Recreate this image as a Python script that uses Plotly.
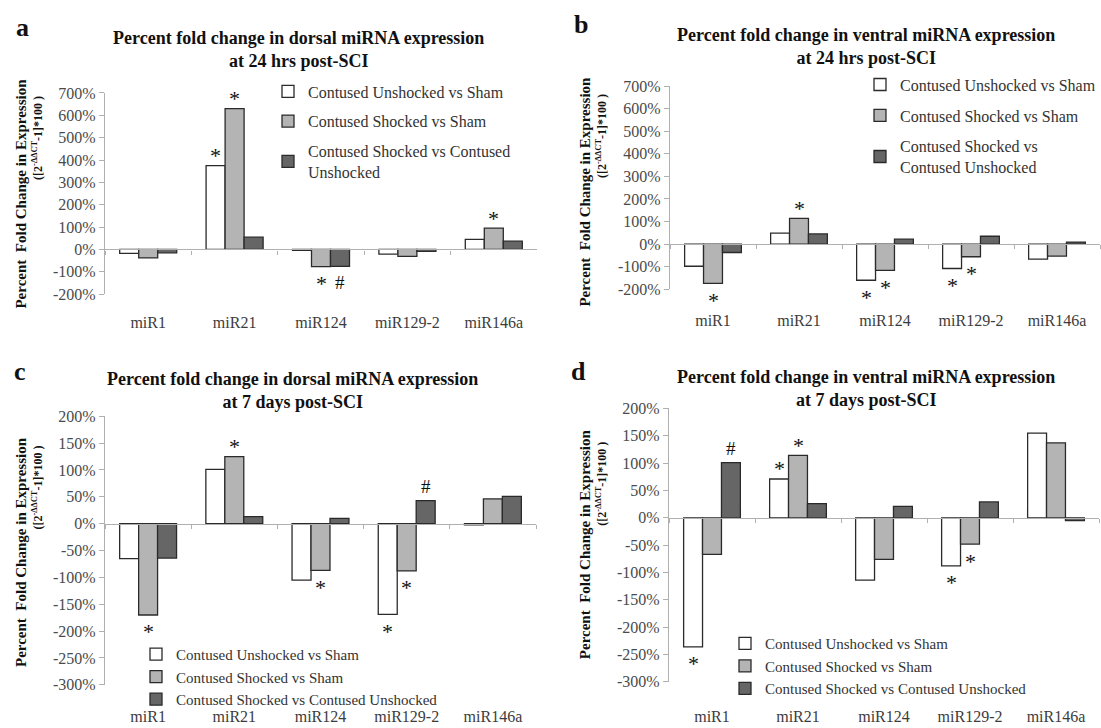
import plotly.graph_objects as go

W, H = 1101, 728

categories = ["miR1", "miR21", "miR124", "miR129-2", "miR146a"]
series_names = [
    "Contused Unshocked vs Sham",
    "Contused Shocked vs Sham",
    "Contused Shocked vs Contused Unshocked",
]
series_colors = ["#ffffff", "#b4b4b4", "#666666"]

# percent fold change values per panel (unshocked vs sham, shocked vs sham, shocked vs unshocked)
a_unshocked_sham = [-18, 375, -4, -21, 45]
a_shocked_sham = [-38, 630, -77, -31, 95]
a_shocked_unshocked = [-15, 55, -76, -9, 37]

b_unshocked_sham = [-98, 49, -160, -108, -66]
b_shocked_sham = [-174, 114, -116, -56, -53]
b_shocked_unshocked = [-37, 45, 22, 35, 9]

c_unshocked_sham = [-65, 101, -105, -169, -2]
c_shocked_sham = [-170, 125, -87, -88, 46]
c_shocked_unshocked = [-64, 13, 10, 43, 51]

d_unshocked_sham = [-236, 71, -114, -88, 155]
d_shocked_sham = [-67, 114, -76, -48, 137]
d_shocked_unshocked = [101, 26, 21, 29, -5]

# significance marks: (category index, series index, symbol)
a_marks = [(1, 0, "*"), (1, 1, "*"), (2, 1, "*"), (2, 2, "#"), (4, 1, "*")]
b_marks = [(0, 1, "*"), (1, 1, "*"), (2, 0, "*"), (2, 1, "*"), (3, 0, "*"), (3, 1, "*")]
c_marks = [(0, 1, "*"), (1, 1, "*"), (2, 1, "*"), (3, 0, "*"), (3, 1, "*"), (3, 2, "#")]
d_marks = [(0, 0, "*"), (0, 2, "#"), (1, 0, "*"), (1, 1, "*"), (3, 0, "*"), (3, 1, "*")]

a_ticks = [700, 600, 500, 400, 300, 200, 100, 0, -100, -200]
c_ticks = [200, 150, 100, 50, 0, -50, -100, -150, -200, -250, -300]

SERIF = "'Liberation Serif', 'Times New Roman', Times, serif"
BARGAP = 0.34


def px(x):
    return x / W


def py(y):
    return 1 - y / H


panels = [
    dict(key="a", data=[a_unshocked_sham, a_shocked_sham, a_shocked_unshocked], marks=a_marks,
         ticks=a_ticks, xdom=[px(105), px(537)], ydom=[py(293), py(87)],
         title=("Percent fold change in dorsal miRNA expression", "at 24 hrs post-SCI"),
         title_xy=(298, 30), letter_xy=(22, 20),
         legend=dict(x=px(268), y=py(68), gap=6, size=16),
         names=["Contused Unshocked vs Sham", "Contused Shocked vs Sham",
                "Contused Shocked vs Contused<br>Unshocked"],
         ytitle_x=(21, 38), ytitle_y=(190, 133), label_len=14),
    dict(key="b", data=[b_unshocked_sham, b_shocked_sham, b_shocked_unshocked], marks=b_marks,
         ticks=a_ticks, xdom=[px(670), px(1100)], ydom=[py(288), py(80)],
         title=("Percent fold change in ventral miRNA expression", "at 24 hrs post-SCI"),
         title_xy=(866, 27), letter_xy=(581, 17),
         legend=dict(x=px(860), y=py(61), gap=7, size=16),
         names=["Contused Unshocked vs Sham", "Contused Shocked vs Sham",
                "Contused Shocked vs<br>Contused Unshocked"],
         ytitle_x=(585, 602), ytitle_y=(188, 131), label_len=17),
    dict(key="c", data=[c_unshocked_sham, c_shocked_sham, c_shocked_unshocked], marks=c_marks,
         ticks=c_ticks, xdom=[px(105), px(536)], ydom=[py(693), py(418)],
         title=("Percent fold change in dorsal miRNA expression", "at 7 days post-SCI"),
         title_xy=(292, 380), letter_xy=(20, 372),
         legend=dict(x=px(136), y=py(645), gap=0, size=15),
         names=series_names,
         ytitle_x=(21, 38), ytitle_y=(557, 491), label_len=17),
    dict(key="d", data=[d_unshocked_sham, d_shocked_sham, d_shocked_unshocked], marks=d_marks,
         ticks=c_ticks, xdom=[px(669), px(1099)], ydom=[py(690), py(410)],
         title=("Percent fold change in ventral miRNA expression", "at 7 days post-SCI"),
         title_xy=(866, 378), letter_xy=(578, 372),
         legend=dict(x=px(725), y=py(634), gap=0, size=15),
         names=series_names,
         ytitle_x=(585, 602), ytitle_y=(549, 487), label_len=20),
]

fig = go.Figure()
annotations = []
layout = dict(
    width=W, height=H, margin=dict(l=0, r=0, t=0, b=0),
    paper_bgcolor="white", plot_bgcolor="white",
    barmode="group", bargap=BARGAP, bargroupgap=0,
    font=dict(family=SERIF, size=15, color="#333333"),
)

for i, p in enumerate(panels):
    n = i + 1
    xa = "x" if n == 1 else f"x{n}"
    ya = "y" if n == 1 else f"y{n}"
    xlab = f"x{n + 4}"
    legend_name = "legend" if n == 1 else f"legend{n}"
    ymin, ymax = min(p["ticks"]), max(p["ticks"])

    for s, values in enumerate(p["data"]):
        fig.add_trace(go.Bar(
            x=categories, y=values, name=p["names"][s],
            xaxis=xa, yaxis=ya, legend=legend_name,
            legendgroup=f"{p['key']}{s}",
            marker=dict(color=series_colors[s], line=dict(color="#2a2a2a", width=1.3)),
            hoverinfo="x+y",
        ))
    # carrier for the category label axis (nothing visible)
    fig.add_trace(go.Scatter(
        x=[0], y=[0], xaxis=xlab, yaxis=ya, mode="markers",
        marker=dict(opacity=0, size=1), showlegend=False, hoverinfo="skip",
    ))

    # zero line with category boundary ticks
    zero_pos = p["ydom"][0] + (0 - ymin) / (ymax - ymin) * (p["ydom"][1] - p["ydom"][0])
    layout[f"xaxis{n}"] = dict(
        domain=p["xdom"], anchor="free", position=zero_pos,
        type="category", categoryorder="array", categoryarray=categories,
        range=[-0.5, len(categories) - 0.5],
        showline=True, linecolor="#b0b0b0", linewidth=1.2,
        ticks="outside", tickson="boundaries", ticklen=4, tickcolor="#b0b0b0",
        showticklabels=False, showgrid=False, zeroline=False,
    )
    # category labels along the bottom of the plot
    layout[f"xaxis{n + 4}"] = dict(
        domain=p["xdom"], anchor=ya, overlaying=xa, side="bottom",
        range=[-0.5, len(categories) - 0.5],
        tickmode="array", tickvals=list(range(len(categories))), ticktext=categories,
        ticks="outside", ticklen=p["label_len"], tickcolor="rgba(0,0,0,0)",
        showline=False, showgrid=False, zeroline=False,
        tickfont=dict(family=SERIF, size=16, color="#3c3c3c"),
    )
    layout[f"yaxis{n}"] = dict(
        domain=p["ydom"], anchor=xa, range=[ymin, ymax],
        tickmode="array", tickvals=p["ticks"], ticktext=[f"{v}%" for v in p["ticks"]],
        showline=True, linecolor="#b0b0b0", linewidth=1.2,
        ticks="outside", ticklen=5, tickcolor="#b0b0b0",
        showgrid=False, zeroline=False,
        tickfont=dict(family=SERIF, size=16, color="#4a4a4a"),
    )
    layout[legend_name] = dict(
        x=p["legend"]["x"], y=p["legend"]["y"], xanchor="left", yanchor="top",
        bgcolor="rgba(0,0,0,0)", traceorder="grouped", tracegroupgap=p["legend"]["gap"],
        font=dict(family=SERIF, size=p["legend"]["size"], color="#333333"),
        itemclick=False, itemdoubleclick=False,
    )

    # panel title and letter
    tx, ty = p["title_xy"]
    annotations.append(dict(
        text=f"<b>{p['title'][0]}</b><br><b>{p['title'][1]}</b>",
        x=px(tx), y=py(ty - 12), xref="paper", yref="paper",
        xanchor="center", yanchor="top", showarrow=False,
        font=dict(family=SERIF, size=18, color="#111111"),
    ))
    lx, ly = p["letter_xy"]
    annotations.append(dict(
        text=f"<b>{p['key']}</b>", x=px(lx), y=py(ly), xref="paper", yref="paper",
        xanchor="center", yanchor="middle", showarrow=False,
        font=dict(family=SERIF, size=26, color="#111111"),
    ))

    # y axis title, two lines
    (x1, x2), (y1, y2) = p["ytitle_x"], p["ytitle_y"]
    annotations.append(dict(
        text="<b>Percent  Fold Change in Expression</b>", textangle=-90,
        x=px(x1), y=py(y1), xref="paper", yref="paper",
        xanchor="center", yanchor="middle", showarrow=False,
        font=dict(family=SERIF, size=15, color="#111111"),
    ))
    annotations.append(dict(
        text="<b>([2<sup>-ΔΔCT</sup>-1]*100 )</b>", textangle=-90,
        x=px(x2), y=py(y2), xref="paper", yref="paper",
        xanchor="center", yanchor="middle", showarrow=False,
        font=dict(family=SERIF, size=12, color="#111111"),
    ))

    # significance marks placed over / under the relevant bar
    width = (1 - BARGAP) / 3
    for ci, si, sym in p["marks"]:
        v = p["data"][si][ci]
        above = v > 0
        if sym == "*":
            shift = 10 if above else -17
            size = 22
        else:
            shift = 14 if above else -16
            size = 19
        annotations.append(dict(
            text=sym, x=ci + (si - 1) * width, y=v, xref=xa, yref=ya,
            xanchor="center", yanchor="middle", yshift=shift, showarrow=False,
            font=dict(family=SERIF, size=size, color="#111111"),
        ))

layout["annotations"] = annotations
fig.update_layout(**layout)
fig.write_html("out.html")
